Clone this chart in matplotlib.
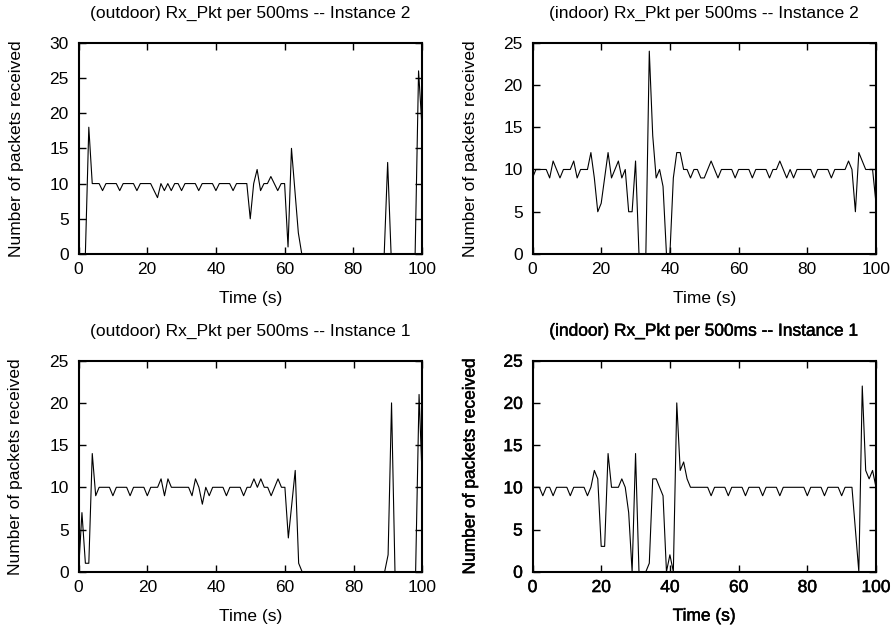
import matplotlib
matplotlib.use("Agg")
import matplotlib.pyplot as plt
import matplotlib.patheffects as pe
import numpy as np

plt.rcParams['font.family'] = ['Liberation Sans', 'DejaVu Sans']

time_s = list(range(0, 101))

outdoor_inst2 = [0, 0, 0, 18, 10, 10, 10, 9, 10, 10,
                 10, 10, 9, 10, 10, 10, 10, 9, 10, 10,
                 10, 10, 9, 8, 10, 9, 10, 9, 10, 10,
                 9, 10, 10, 10, 10, 9, 10, 10, 10, 10,
                 9, 10, 10, 10, 10, 9, 10, 10, 10, 10,
                 5, 10, 12, 9, 10, 10, 11, 10, 9, 10,
                 10, 1, 15, 9, 3, 0, 0, 0, 0, 0,
                 0, 0, 0, 0, 0, 0, 0, 0, 0, 0,
                 0, 0, 0, 0, 0, 0, 0, 0, 0, 0,
                 13, 0, 0, 0, 0, 0, 0, 0, 0, 26,
                 18]

indoor_inst2 = [9, 10, 10, 10, 10, 9, 11, 10, 9, 10,
                10, 10, 11, 9, 10, 10, 10, 12, 9, 5,
                6, 9, 12, 9, 10, 11, 9, 10, 5, 5,
                11, 0, 0, 0, 24, 14, 9, 10, 8, 0,
                0, 9, 12, 12, 10, 10, 9, 10, 10, 9,
                9, 10, 11, 10, 9, 10, 10, 10, 10, 9,
                10, 10, 10, 10, 9, 10, 10, 10, 10, 9,
                10, 10, 11, 10, 9, 10, 9, 10, 10, 10,
                10, 10, 9, 10, 10, 10, 10, 9, 10, 10,
                10, 10, 11, 10, 5, 12, 11, 10, 10, 10,
                6]

outdoor_inst1 = [0, 7, 1, 1, 14, 9, 10, 10, 10, 10,
                 9, 10, 10, 10, 10, 9, 10, 10, 10, 10,
                 9, 10, 10, 10, 11, 9, 11, 10, 10, 10,
                 10, 10, 10, 9, 11, 10, 8, 10, 9, 10,
                 10, 10, 10, 9, 10, 10, 10, 10, 9, 10,
                 10, 11, 10, 11, 10, 10, 9, 10, 11, 10,
                 10, 4, 8, 12, 1, 0, 0, 0, 0, 0,
                 0, 0, 0, 0, 0, 0, 0, 0, 0, 0,
                 0, 0, 0, 0, 0, 0, 0, 0, 0, 0,
                 2, 20, 0, 0, 0, 0, 0, 0, 0, 21,
                 10]

indoor_inst1 = [10, 10, 10, 9, 10, 10, 9, 10, 10, 10,
                10, 9, 10, 10, 10, 10, 9, 10, 12, 11,
                3, 3, 14, 10, 10, 10, 11, 10, 7, 0,
                14, 0, 0, 0, 1, 11, 11, 10, 9, 0,
                2, 0, 20, 12, 13, 11, 10, 10, 10, 10,
                10, 10, 9, 10, 10, 10, 10, 9, 10, 10,
                10, 10, 9, 10, 10, 10, 10, 9, 10, 10,
                10, 10, 9, 10, 10, 10, 10, 10, 10, 10,
                9, 10, 10, 10, 10, 9, 10, 10, 10, 10,
                9, 10, 10, 10, 5, 0, 22, 12, 11, 12,
                10]

titles = ["(outdoor) Rx_Pkt per 500ms -- Instance 2",
          "(indoor) Rx_Pkt per 500ms -- Instance 2",
          "(outdoor) Rx_Pkt per 500ms -- Instance 1",
          "(indoor) Rx_Pkt per 500ms -- Instance 1"]
series = [outdoor_inst2, indoor_inst2, outdoor_inst1, indoor_inst1]
ymaxes = [30, 25, 25, 25]
xticks = [0, 20, 40, 60, 80, 100]
xlabel = "Time (s)"
ylabel = "Number of packets received"

W, H = 893, 628
fig = plt.figure(figsize=(W / 100, H / 100), dpi=100)

boxes = [(78.5, 42.7, 422, 254), (532.5, 42.7, 876, 254),
         (78.5, 360.7, 422.5, 571.7), (532.5, 360.7, 876, 571.7)]

FS = 12.5
for i, (l, t, r, b) in enumerate(boxes):
    ax = fig.add_axes([l / W, (H - b) / H, (r - l) / W, (b - t) / H])
    ax.plot(time_s, series[i], color='black', lw=0.8, clip_on=True, zorder=2)
    ax.set_xlim(0, 100)
    ax.set_ylim(0, ymaxes[i])
    ax.set_xticks(xticks)
    ax.set_yticks(np.arange(0, ymaxes[i] + 1, 5))
    ax.tick_params(direction='in', length=5, width=1.0, top=True, right=True,
                   labelsize=FS)
    ax.tick_params(axis='y', pad=7)
    ax.tick_params(axis='x', pad=6)
    for s in ax.spines.values():
        s.set_linewidth(1.5)
        s.set_zorder(3)
    ax.set_title(titles[i], fontsize=FS, pad=18)
    ax.set_xlabel(xlabel, fontsize=FS)
    ax.set_ylabel(ylabel, fontsize=FS)
    ax.xaxis.set_label_coords(0.5, -0.175)
    ax.yaxis.set_label_coords(-0.16, 0.5)
    if i == 3:
        eff = [pe.withStroke(linewidth=0.35, foreground='black')]
        for txt in ([ax.title, ax.xaxis.label, ax.yaxis.label]
                    + ax.get_xticklabels() + ax.get_yticklabels()):
            txt.set_path_effects(eff)

fig.savefig("out.png", dpi=100)
